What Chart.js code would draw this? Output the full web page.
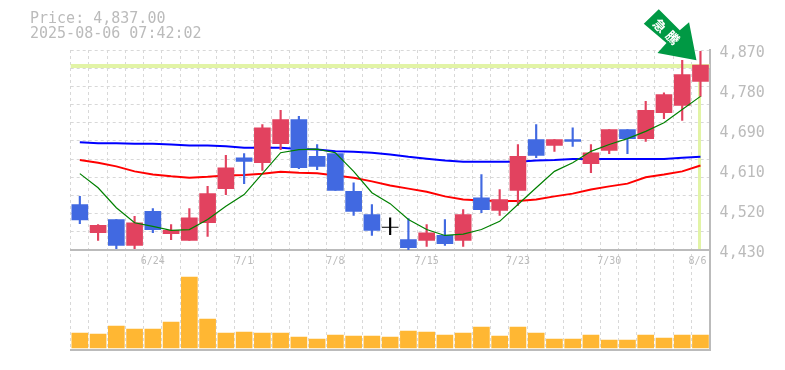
<!DOCTYPE html>
<html><head><meta charset="utf-8">
<style>html,body{margin:0;padding:0;background:#fff}#c{display:block}
</style>
<script src="https://cdn.jsdelivr.net/npm/chart.js@4"></script>
</head><body><canvas id="c" width="785" height="370"></canvas>
<script>
const categories=['6/18','6/19','6/20','6/23','6/24','6/25','6/26','6/27','6/30','7/1','7/2','7/3','7/4','7/7','7/8','7/9','7/10','7/11','7/14','7/15','7/16','7/17','7/18','7/22','7/23','7/24','7/25','7/28','7/29','7/30','7/31','8/1','8/4','8/5','8/6'];
const shownDates=['6/24','7/1','7/8','7/15','7/23','7/30','8/6'];
const opens=[4530,4468,4497,4440,4515,4466,4451,4490,4565,4633,4622,4664,4717,4636,4642,4559,4508,4480,4453,4451,4462,4451,4545,4517,4561,4673,4660,4673,4620,4649,4695,4675,4732,4748,4801];
const highs=[4548,4486,4497,4504,4521,4486,4521,4570,4638,4642,4706,4737,4724,4662,4642,4578,4530,4501,4499,4486,4497,4519,4596,4563,4662,4706,4673,4699,4662,4695,4695,4757,4776,4847,4867];
const lows=[4488,4451,4433,4433,4468,4453,4451,4460,4552,4576,4605,4651,4609,4607,4561,4506,4462,4464,4430,4438,4440,4438,4512,4506,4528,4633,4647,4658,4600,4642,4642,4669,4719,4715,4768];
const closes=[4496,4484,4440,4490,4475,4473,4501,4554,4611,4625,4699,4717,4611,4614,4561,4515,4473,4480,4435,4468,4444,4508,4519,4541,4636,4638,4673,4669,4644,4695,4675,4737,4772,4816,4837];
const maShort=[4598,4567,4523,4490,4482,4473,4475,4497,4526,4552,4598,4644,4651,4652,4644,4603,4556,4532,4497,4475,4462,4465,4475,4493,4530,4567,4603,4622,4647,4662,4675,4691,4710,4739,4768];
const maMid=[4628,4622,4614,4603,4596,4592,4589,4591,4594,4595,4598,4602,4600,4599,4594,4589,4581,4572,4565,4558,4548,4541,4539,4538,4538,4541,4548,4554,4563,4570,4576,4590,4596,4603,4616];
const maLong=[4667,4665,4665,4664,4664,4662,4660,4660,4658,4655,4655,4655,4652,4651,4647,4646,4644,4640,4635,4631,4627,4624,4624,4624,4624,4627,4628,4630,4630,4630,4630,4630,4630,4633,4635];
const volumes=[15,14,22,19,19,26,71,29,15,16,15,15,11,9,13,12,12,11,17,16,13,15,21,12,21,15,9,9,13,8,8,13,10,13,13];
const gridTicks=[4430,4470,4510,4550,4590,4630,4670,4710,4750,4790,4830,4870];
const labelTicks=[4430,4518,4606,4694,4782,4870];
const tickLabels=['4,430','4,520','4,610','4,690','4,780','4,870'];
const currentPrice=4837;
const headerLines=['Price: 4,837.00','2025-08-06 07:42:02'];
const badgeText=['急','騰'];

const UP='#E2425F',DOWN='#4169E1',VOL='#FFB733',LIME='#E2F4A6';
const candleColor=closes.map((c,i)=>c>opens[i]?UP:c<opens[i]?DOWN:'#000');
const MONO='"DejaVu Sans Mono",monospace';

const overlay={id:'overlay',
 beforeDatasetsDraw(ch){
  const {ctx,chartArea:a,scales:s}=ch;
  const y=s.y.getPixelForValue(currentPrice),x=s.x.getPixelForValue(categories.length-1);
  ctx.save();ctx.fillStyle=LIME;
  ctx.fillRect(a.left,Math.round(y)-1,a.right-a.left,4);
  ctx.fillRect(Math.round(x)-2,Math.round(y),3,s.y.bottom-y-1);
  ctx.restore();
 },
 afterDraw(ch){
  const {ctx,scales:s}=ch;
  ctx.save();
  ctx.fillStyle='#bbb';ctx.font='15px '+MONO;ctx.textBaseline='alphabetic';
  ctx.fillText(headerLines[0],30,23);ctx.fillText(headerLines[1],30,38);
  const tx=s.x.getPixelForValue(categories.length-1)-4,ty=s.y.getPixelForValue(highs[34])+9;
  const P=[[-52.7,-36.7],[-37.7,-51.2],[-16.7,-30],[-7.4,-38],[0,0],[-39,-7.4],[-30,-17.4]];
  ctx.fillStyle='#009944';ctx.beginPath();
  P.forEach((p,i)=>i?ctx.lineTo(tx+p[0],ty+p[1]):ctx.moveTo(tx+p[0],ty+p[1]));
  ctx.closePath();ctx.fill();
  ctx.fillStyle='#fff';ctx.font='bold 13px "Noto Sans CJK JP"';ctx.textAlign='center';ctx.textBaseline='middle';
  [[-36.7,-34.7],[-23.7,-22.7]].forEach((o,i)=>{ctx.save();ctx.translate(tx+o[0],ty+o[1]);ctx.rotate(Math.PI/4);ctx.fillText(badgeText[i],0,0);ctx.restore();});
  ctx.restore();
 }};

new Chart(document.getElementById('c'),{
 data:{labels:categories,datasets:[
  {type:'line',label:'MA short',data:maShort,yAxisID:'y',borderColor:'#008000',borderWidth:1.2,pointRadius:0,tension:0,order:1},
  {type:'bar',label:'Wick',data:highs.map((h,i)=>[lows[i],h]),yAxisID:'y',backgroundColor:candleColor,barThickness:1.5,grouped:false,order:3},
  {type:'bar',label:'Body',data:closes.map((c,i)=>c===opens[i]?[c-0.5,c+0.5]:[opens[i],c]),yAxisID:'y',backgroundColor:candleColor,barThickness:16,grouped:false,order:2},
  {type:'line',label:'MA mid',data:maMid,yAxisID:'y',borderColor:'#ff0000',borderWidth:2,pointRadius:0,tension:0,order:4},
  {type:'line',label:'MA long',data:maLong,yAxisID:'y',borderColor:'#0000ff',borderWidth:2,pointRadius:0,tension:0,order:5},
  {type:'bar',label:'Volume',data:volumes,yAxisID:'v',backgroundColor:VOL,barThickness:16,grouped:false,order:6}
 ]},
 options:{responsive:false,animation:false,
  layout:{padding:{left:70.7,top:50,bottom:20,right:0}},
  plugins:{legend:{display:false},tooltip:{enabled:false}},
  scales:{
   x:{type:'category',position:{y:4430},offset:true,
    grid:{color:'#d8d8d8',lineWidth:1,offset:true,drawTicks:false},
    border:{color:'#bbb',width:2,dash:[3,3]},
    ticks:{autoSkip:false,maxRotation:0,padding:5,color:'#bbb',font:{family:MONO,size:10},
     callback(v){const l=this.getLabelForValue(v);return shownDates.includes(l)?(l==='8/6'?l+' ':l):'';}}},
   xb:{type:'category',position:'bottom',offset:true,grid:{display:false,drawTicks:false},border:{color:'#bbb',width:2},ticks:{display:false},afterFit(a){a.height=0;}},
   y:{type:'linear',position:'right',stack:'p',stackWeight:2,min:4430,max:4870,
    grid:{color(c){return gridTicks.includes(c.tick&&c.tick.value)?'#d8d8d8':'transparent';},drawTicks:false},
    border:{color:'#bbb',width:2,dash:[3,3]},
    afterBuildTicks(a){a.ticks=[...new Set([...gridTicks,...labelTicks])].sort((p,q)=>p-q).map(value=>({value}));},
    afterFit(a){a.width=75.4;},
    ticks:{autoSkip:false,padding:10,labelOffset:3,color:'#bbb',font:{family:MONO,size:15},
     callback(v){const i=labelTicks.indexOf(v);return i<0?'':tickLabels[i];}}},
   v:{type:'linear',position:'right',stack:'p',stackWeight:1,min:-2,max:98,
    grid:{display:false},border:{color:'#bbb',width:2},
    afterFit(a){a.width=75.4;},ticks:{display:false}}
  }},
 plugins:[overlay]});
</script></body></html>
